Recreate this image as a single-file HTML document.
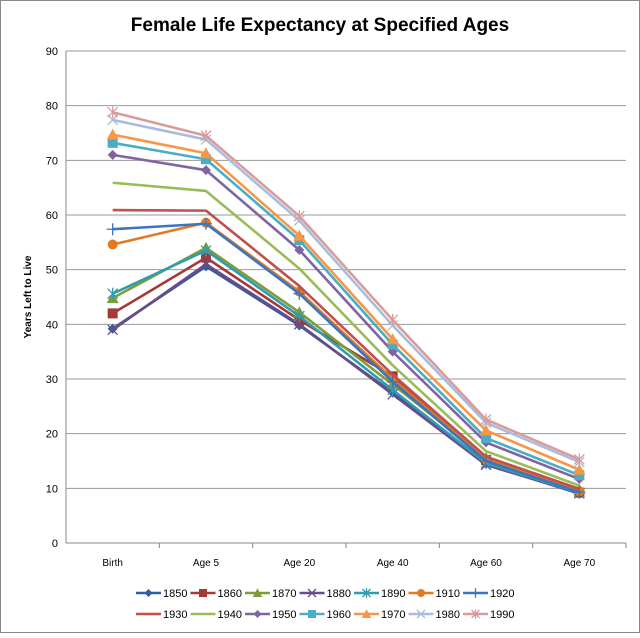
<!DOCTYPE html>
<html><head><meta charset="utf-8"><style>
body{margin:0;background:#fff;font-family:"Liberation Sans",sans-serif}
svg text{font-family:"Liberation Sans",sans-serif}
</style></head><body>
<svg id="chart" width="640" height="633" xmlns="http://www.w3.org/2000/svg">
<rect x="0.5" y="0.5" width="639" height="632" fill="#fff" stroke="#888"/>
<text x="320" y="31" text-anchor="middle" font-size="19" font-weight="bold">Female Life Expectancy at Specified Ages</text>
<text transform="translate(31,297) rotate(-90)" text-anchor="middle" font-size="10" font-weight="bold">Years Left to Live</text>
<g id="grid"></g><g id="axes"></g><g id="series"></g><g id="legend"></g>
</svg>
<script>
const categories=["Birth","Age 5","Age 20","Age 40","Age 60","Age 70"];
const yTicks=[0,10,20,30,40,50,60,70,80,90];
const seriesNames=["1850","1860","1870","1880","1890","1910","1920","1930","1940","1950","1960","1970","1980","1990"];
const s1850=[39.2,50.6,39.8,27.5,14.5,9.0];
const s1860=[42.0,52.2,40.8,30.5,15.2,9.2];
const s1870=[44.8,54.0,42.2,29.0,15.6,9.8];
const s1880=[39.0,51.0,40.0,27.2,14.3,9.1];
const s1890=[45.6,53.5,41.5,28.0,14.6,9.2];
const s1910=[54.6,58.6,46.0,30.0,15.3,9.5];
const s1920=[57.4,58.4,45.6,29.5,15.0,9.3];
const s1930=[60.9,60.8,47.0,30.8,15.8,9.9];
const s1940=[65.9,64.4,50.2,32.5,16.8,10.5];
const s1950=[71.0,68.2,53.6,35.0,18.4,11.7];
const s1960=[73.2,70.2,55.4,36.3,19.2,12.4];
const s1970=[74.7,71.3,56.2,37.3,20.6,13.4];
const s1980=[77.4,73.8,59.0,39.8,22.0,14.8];
const s1990=[78.8,74.5,59.8,40.8,22.6,15.3];
const seriesValues=[s1850,s1860,s1870,s1880,s1890,s1910,s1920,s1930,s1940,s1950,s1960,s1970,s1980,s1990];
const colors=["#2f5f9e","#a33a37","#7f9c3a","#6a4a8a","#2f9cb0","#e07b24","#3a75c0","#c0504d","#9bbb59","#8064a2","#4bacc6","#f79646","#a8bcdc","#d99c9b"];
const markers=["diamond","square","triangle","x","star","circle","plus","none","none","diamond","square","triangle","x","star"];
const NS="http://www.w3.org/2000/svg";
const L=66,R=626,T=51,B=543;
function x(i){return L+(R-L)/categories.length*(i+0.5);}
function y(v){return B-(B-T)*v/90;}
function mk(tag,attrs,parent){const e=document.createElementNS(NS,tag);for(const k in attrs)e.setAttribute(k,attrs[k]);parent.appendChild(e);return e;}
const grid=document.getElementById('grid'),axes=document.getElementById('axes'),ser=document.getElementById('series'),leg=document.getElementById('legend');
yTicks.forEach(t=>{
  const l=mk('line',{x1:L,x2:R,y1:y(t),y2:y(t),stroke:t===0?'#888':'#999','stroke-width':1},grid);
  
  
  const tx=mk('text',{x:L-8,y:y(t)+4,'text-anchor':'end','font-size':11},axes);tx.textContent=t;
  
  
});
const ax=mk('line',{x1:L,x2:L,y1:T,y2:B,stroke:'#888'},axes);


categories.forEach((c,i)=>{
  const tx=mk('text',{x:x(i),y:B+23,'text-anchor':'middle','font-size':10},axes);tx.textContent=c;
  
  
  const tk=mk('line',{x1:L+(R-L)/6*(i+1),x2:L+(R-L)/6*(i+1),y1:B,y2:B+5,stroke:'#888'},axes);
  
  
});
function marker(type,cx,cy,col,p,s){
  s=s||1;let e=null;
  if(type==='diamond')e=mk('polygon',{points:`${cx},${cy-5*s} ${cx+5*s},${cy} ${cx},${cy+5*s} ${cx-5*s},${cy}`,fill:col},p);
  else if(type==='square')e=mk('rect',{x:cx-5*s,y:cy-5*s,width:10*s,height:10*s,fill:col},p);
  else if(type==='triangle')e=mk('polygon',{points:`${cx},${cy-6*s} ${cx+6*s},${cy+5*s} ${cx-6*s},${cy+5*s}`,fill:col},p);
  else if(type==='circle')e=mk('circle',{cx:cx,cy:cy,r:5*s,fill:col},p);
  else if(type==='x')e=mk('path',{d:`M${cx-5*s} ${cy-5*s}L${cx+5*s} ${cy+5*s}M${cx+5*s} ${cy-5*s}L${cx-5*s} ${cy+5*s}`,stroke:col,'stroke-width':1.3},p);
  else if(type==='star')e=mk('path',{d:`M${cx-5*s} ${cy-5*s}L${cx+5*s} ${cy+5*s}M${cx+5*s} ${cy-5*s}L${cx-5*s} ${cy+5*s}M${cx} ${cy-6*s}L${cx} ${cy+6*s}`,stroke:col,'stroke-width':1.3},p);
  else if(type==='plus')e=mk('path',{d:`M${cx-6*s} ${cy}L${cx+6*s} ${cy}M${cx} ${cy-6*s}L${cx} ${cy+6*s}`,stroke:col,'stroke-width':1.3},p);
  if(e){}
}
seriesValues.forEach((vals,si)=>{
  const g=mk('g',{},ser);
  
  
  const pl=mk('polyline',{points:vals.map((v,i)=>x(i)+','+y(v)).join(' '),fill:'none',stroke:colors[si],'stroke-width':2.6,'stroke-linejoin':'round'},g);
  
  
  vals.forEach((v,i)=>marker(markers[si],x(i),y(v),colors[si],g));
});
seriesNames.forEach((n,si)=>{
  const row=si<7?0:1,col=si%7;
  const lx=136+col*54.5,ly=row?614:593;
  const g=mk('g',{},leg);
  
  
  mk('line',{x1:lx,x2:lx+25,y1:ly,y2:ly,stroke:colors[si],'stroke-width':2.6},g);
  marker(markers[si],lx+12.5,ly,colors[si],g,0.8);
  const t=mk('text',{x:lx+27,y:ly+4,'font-size':11},g);t.textContent=n;
});
</script>
</body></html>
